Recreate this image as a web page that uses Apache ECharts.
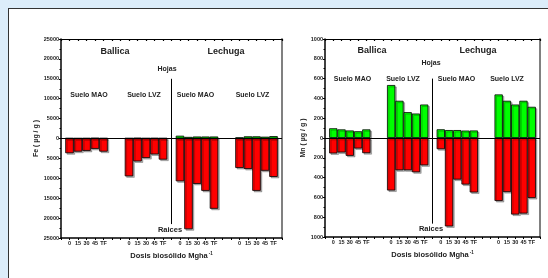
<!DOCTYPE html>
<html>
<head>
<meta charset="utf-8">
<script src="https://cdn.jsdelivr.net/npm/echarts@6/dist/echarts.min.js"></script>
<style>
  html, body { margin: 0; padding: 0; background: #dcedfa; }
  #wrap { position: relative; width: 548px; height: 278px; overflow: hidden; }
  #panel { position: absolute; left: 8px; top: 8px; width: 560px; height: 300px; background: #fff; border: 1px solid #333; box-shadow: 1px 1px 0 #999; }
  #chart { position: absolute; left: 0; top: 0; width: 548px; height: 278px; }
</style>
</head>
<body>
<div id="wrap">
  <div id="panel"></div>
  <div id="chart"></div>
</div>
<script>
// dosis de biosólido por grupo
const doses = ['0', '15', '30', '45', 'TF']
// ranuras del eje: huecos entre grupos (Ballica MAO, Ballica LVZ | Lechuga MAO, Lechuga LVZ)
const groupStarts = [1, 8, 14, 21]
const slotCount = 27

// Fe (µg/g) — hojas (arriba) y raíces (abajo)
const feHojasBallicaMAO = [100, 80, 100, 150, 100]
const feHojasBallicaLVZ = [100, 150, 100, 120, 100]
const feHojasLechugaMAO = [700, 400, 500, 500, 500]
const feHojasLechugaLVZ = [300, 550, 550, 450, 600]
const feRaicesBallicaMAO = [3700, 3300, 3100, 2600, 3300]
const feRaicesBallicaLVZ = [9500, 5750, 4900, 4000, 5300]
const feRaicesLechugaMAO = [10750, 22800, 11400, 13150, 17650]
const feRaicesLechugaLVZ = [7400, 7650, 13150, 8100, 9650]

// Mn (µg/g)
const mnHojasBallicaMAO = [98, 87, 76, 68, 87]
const mnHojasBallicaLVZ = [535, 376, 261, 247, 338]
const mnHojasLechugaMAO = [88, 80, 80, 75, 76]
const mnHojasLechugaLVZ = [440, 376, 338, 376, 315]
const mnRaicesBallicaMAO = [156, 146, 180, 106, 153]
const mnRaicesBallicaLVZ = [530, 326, 326, 346, 276]
const mnRaicesLechugaMAO = [113, 893, 420, 470, 550]
const mnRaicesLechugaLVZ = [636, 546, 773, 763, 606]

const FONT = "'Liberation Sans', Arial, sans-serif"

// arma las 27 ranuras (con huecos) a partir de los grupos
function slots(groups, sign) {
    const out = new Array(slotCount).fill('-')
    groups.forEach(function (g, gi) {
        g.forEach(function (v, i) {
            out[groupStarts[gi] + i] = sign * v
        })
    })
    return out
}
const categories = new Array(slotCount).fill('')
groupStarts.forEach(function (s) {
    doses.forEach(function (d, i) { categories[s + i] = d })
})

const feHojas = slots([feHojasBallicaMAO, feHojasBallicaLVZ, feHojasLechugaMAO, feHojasLechugaLVZ], 1)
const feRaices = slots([feRaicesBallicaMAO, feRaicesBallicaLVZ, feRaicesLechugaMAO, feRaicesLechugaLVZ], -1)
const mnHojas = slots([mnHojasBallicaMAO, mnHojasBallicaLVZ, mnHojasLechugaMAO, mnHojasLechugaLVZ], 1)
const mnRaices = slots([mnRaicesBallicaMAO, mnRaicesBallicaLVZ, mnRaicesLechugaMAO, mnRaicesLechugaLVZ], -1)

function barStyle(color) {
    return {
        color: color,
        borderColor: '#000',
        borderWidth: 0.8,
        shadowColor: 'rgba(0,0,0,0.3)',
        shadowOffsetX: 1.5,
        shadowOffsetY: 1.5,
        shadowBlur: 0,
    }
}

function xAxes(gi) {
    return [
        {
            gridIndex: gi,
            type: 'category',
            data: categories,
            boundaryGap: false,
            position: 'bottom',
            axisLine: { onZero: false, lineStyle: { color: '#000', width: 1.5 } },
            axisTick: { show: true, interval: 0, length: 2, lineStyle: { color: '#000' } },
            axisLabel: { interval: 0, fontSize: 5.5, fontWeight: 'bold', color: '#222', margin: 2, fontFamily: FONT },
            name: 'Dosis biosólido Mgha{sup|-1}',
            nameLocation: 'middle',
            nameGap: 12,
            nameTextStyle: {
                fontSize: 7.5, fontWeight: 'bold', color: '#222', fontFamily: FONT,
                rich: { sup: { fontSize: 4.5, fontWeight: 'bold', color: '#222', padding: [0, 0, 5, 1], fontFamily: FONT } },
            },
            splitLine: { show: false },
        },
        {
            gridIndex: gi,
            type: 'category',
            data: categories,
            boundaryGap: false,
            position: 'top',
            axisLine: { onZero: false, lineStyle: { color: '#000', width: 1 } },
            axisTick: { show: true, inside: true, interval: 0, length: 2, lineStyle: { color: '#000', width: 1.2 } },
            axisLabel: { show: false },
            splitLine: { show: false },
        },
    ]
}

function yAxes(gi, maxV, step, name, gap) {
    return [
        {
            gridIndex: gi,
            type: 'value',
            min: -maxV,
            max: maxV,
            interval: step,
            name: name,
            nameLocation: 'middle',
            nameGap: gap,
            nameTextStyle: { fontSize: 7, fontWeight: 'bold', color: '#222', fontFamily: FONT },
            axisLine: { show: true, lineStyle: { color: '#000', width: 1.5 } },
            axisTick: { show: true, length: 2, lineStyle: { color: '#000' } },
            minorTick: { show: true, splitNumber: 2, length: 1.5, lineStyle: { color: '#000' } },
            axisLabel: {
                fontSize: 5.5, fontWeight: 'bold', color: '#222', margin: 2, fontFamily: FONT,
                formatter: function (v) { return String(Math.abs(v)) },
            },
            splitLine: { show: false },
        },
        {
            gridIndex: gi,
            type: 'value',
            position: 'right',
            min: -maxV,
            max: maxV,
            interval: step,
            axisLine: { show: true, lineStyle: { color: '#808080', width: 2 } },
            axisTick: { show: false },
            axisLabel: { show: false },
            splitLine: { show: false },
        },
    ]
}

function seriesFor(gi, hojas, raices, top, bottom) {
    return [
        {
            type: 'bar',
            xAxisIndex: gi * 2,
            yAxisIndex: gi * 2,
            data: hojas,
            barCategoryGap: '0%',
            barGap: '-100%',
            itemStyle: barStyle('#00ff00'),
            animation: false,
        },
        {
            type: 'bar',
            xAxisIndex: gi * 2,
            yAxisIndex: gi * 2,
            data: raices,
            barCategoryGap: '0%',
            barGap: '-100%',
            itemStyle: barStyle('#ff0000'),
            animation: false,
            markLine: {
                silent: true,
                symbol: ['none', 'none'],
                label: { show: false },
                animation: false,
                lineStyle: { color: '#000', width: 1, type: 'solid' },
                data: [
                    { yAxis: 0 },
                    [{ coord: [13, top] }, { coord: [13, -bottom] }],
                ],
            },
        },
    ]
}

function txt(x, y, text, size) {
    return {
        type: 'text',
        x: x,
        y: y,
        style: {
            text: text,
            font: 'bold ' + size + 'px ' + FONT,
            fill: '#222',
            textAlign: 'center',
            textVerticalAlign: 'middle',
        },
    }
}

const chart = echarts.init(document.getElementById('chart'))
const option = {
    backgroundColor: 'transparent',
    animation: false,
    grid: [
        { left: 61, top: 39, width: 221, height: 199 },
        { left: 325, top: 39, width: 215, height: 198 },
    ],
    xAxis: xAxes(0).concat(xAxes(1)),
    yAxis: yAxes(0, 25000, 5000, 'Fe ( µg / g )', 20).concat(yAxes(1, 1000, 200, 'Mn ( µg / g )', 18)),
    series: seriesFor(0, feHojas, feRaices, 15000, 21500).concat(seriesFor(1, mnHojas, mnRaices, 600, 865)),
    graphic: [
        txt(115, 52, 'Ballica', 9),
        txt(226, 52, 'Lechuga', 9),
        txt(167, 69, 'Hojas', 7),
        txt(89, 95, 'Suelo MAO', 7),
        txt(144, 95, 'Suelo LVZ', 7),
        txt(195.5, 95, 'Suelo MAO', 7),
        txt(252.5, 95, 'Suelo LVZ', 7),
        txt(170, 230, 'Raices', 7.5),
        txt(372, 51, 'Ballica', 9),
        txt(478, 51, 'Lechuga', 9),
        txt(431, 63, 'Hojas', 7),
        txt(352.5, 79, 'Suelo MAO', 7),
        txt(403, 79, 'Suelo LVZ', 7),
        txt(456.5, 79, 'Suelo MAO', 7),
        txt(507, 79, 'Suelo LVZ', 7),
        txt(431, 229, 'Raices', 7.5),
    ],
}
chart.setOption(option)
</script>
</body>
</html>
